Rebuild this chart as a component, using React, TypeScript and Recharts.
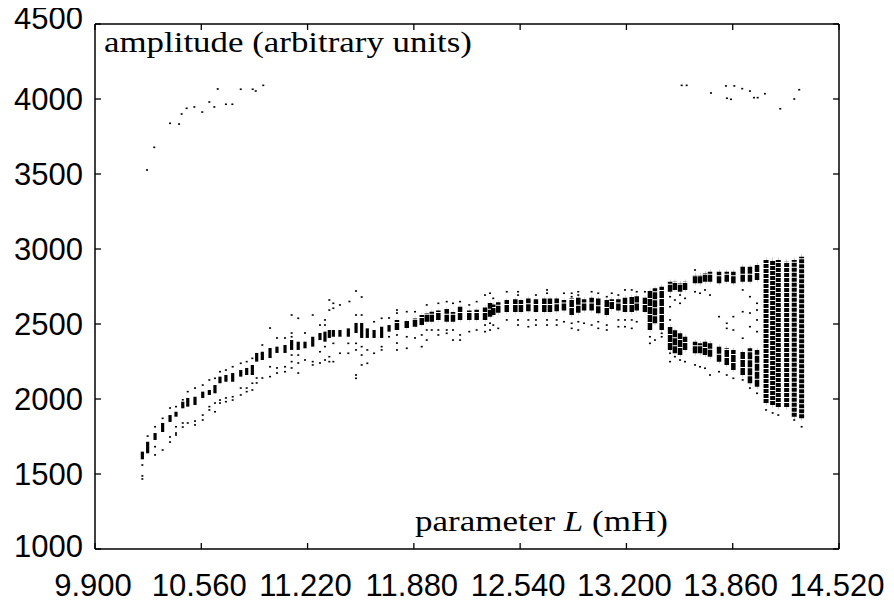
import React from "react";
import { ScatterChart, Scatter, XAxis, YAxis, ErrorBar } from "recharts";

const xTicks = [9.9, 10.56, 11.22, 11.88, 12.54, 13.2, 13.86, 14.52];
const xTickLabels = ["9.900", "10.560", "11.220", "11.880", "12.540", "13.200", "13.860", "14.520"];
const yTicks = [1000, 1500, 2000, 2500, 3000, 3500, 4000, 4500];

// dense bands: [L, low amplitude, high amplitude]
const leftBands: [number, number, number][] = [
  [10.194, 1598, 1649], [10.227, 1638, 1715], [10.273, 1727, 1773], [10.32, 1780, 1840],
  [10.366, 1847, 1893], [10.403, 1882, 1915], [10.445, 1938, 1982], [10.476, 1949, 2007],
  [10.521, 1960, 2015], [10.569, 2007, 2049], [10.61, 2027, 2060], [10.645, 2038, 2093],
  [10.676, 2105, 2149], [10.713, 2115, 2160], [10.755, 2115, 2173], [10.805, 2149, 2193],
  [10.842, 2160, 2207], [10.877, 2160, 2227], [10.904, 2249, 2307], [10.939, 2260, 2315],
  [10.987, 2273, 2340], [11.03, 2307, 2349], [11.08, 2307, 2360], [11.121, 2327, 2393],
  [11.162, 2327, 2382], [11.204, 2338, 2382], [11.252, 2349, 2415], [11.297, 2393, 2440],
  [11.328, 2382, 2449], [11.355, 2407, 2460], [11.38, 2415, 2460], [11.421, 2415, 2460],
  [11.473, 2415, 2471], [11.521, 2440, 2507], [11.556, 2407, 2507], [11.591, 2407, 2471],
  [11.633, 2407, 2460], [11.68, 2407, 2482], [11.726, 2449, 2493],
];

const midBands: [number, number, number][] = [
  [11.775, 2460, 2527], [11.836, 2473, 2527], [11.887, 2482, 2538], [11.929, 2493, 2560],
  [11.96, 2515, 2571], [11.991, 2515, 2582], [12.032, 2527, 2590], [12.084, 2515, 2600],
  [12.123, 2515, 2580], [12.167, 2527, 2615], [12.224, 2527, 2590], [12.27, 2527, 2595],
  [12.322, 2527, 2610], [12.353, 2549, 2640], [12.373, 2560, 2630], [12.404, 2575, 2645],
  [12.457, 2580, 2660], [12.51, 2580, 2665], [12.545, 2580, 2660], [12.591, 2585, 2670],
  [12.638, 2580, 2665], [12.69, 2580, 2670], [12.725, 2580, 2670], [12.767, 2585, 2670],
  [12.812, 2590, 2660], [12.86, 2560, 2670], [12.901, 2575, 2675], [12.937, 2590, 2665],
  [12.984, 2590, 2675], [13.025, 2571, 2670], [13.078, 2560, 2660], [13.109, 2600, 2665],
  [13.15, 2590, 2665], [13.191, 2580, 2675], [13.233, 2580, 2680], [13.264, 2590, 2685],
  [13.315, 2580, 2675], [13.346, 2460, 2727], [13.377, 2505, 2738], [13.419, 2460, 2749],
];

const upperBands: [number, number, number][] = [
  [13.471, 2715, 2782], [13.501, 2727, 2782], [13.533, 2715, 2771], [13.564, 2727, 2782],
  [13.626, 2771, 2827], [13.657, 2771, 2827], [13.688, 2782, 2838], [13.719, 2782, 2849],
  [13.775, 2771, 2849], [13.823, 2782, 2849], [13.864, 2771, 2849],
  [13.922, 2782, 2882], [13.967, 2782, 2882], [14.011, 2793, 2893],
];

const lowerBands: [number, number, number][] = [
  [13.471, 2327, 2482], [13.501, 2305, 2460], [13.533, 2293, 2438], [13.564, 2327, 2415],
  [13.626, 2305, 2382], [13.657, 2305, 2371], [13.688, 2293, 2382], [13.719, 2282, 2371],
  [13.775, 2249, 2349], [13.823, 2227, 2338], [13.864, 2193, 2327],
  [13.922, 2160, 2315], [13.967, 2105, 2338], [14.011, 2082, 2327],
];

const chaosBands: [number, number, number][] = [
  [14.067, 1973, 2927], [14.108, 1960, 2927], [14.143, 1947, 2927],
  [14.195, 1947, 2915], [14.242, 1882, 2927], [14.288, 1871, 2949],
];

// scattered dots: [L, amplitude]
const lowDots: [number, number][] = [
  [10.194, 1560], [10.194, 1487], [10.194, 1467], [10.227, 1753],
  [10.273, 1815], [10.273, 1682], [10.273, 1627], [10.32, 1871], [10.32, 1660],
  [10.366, 1940], [10.366, 1747], [10.366, 1713], [10.403, 1949], [10.403, 1815], [10.403, 1773], [10.403, 1760],
  [10.445, 1995], [10.445, 1840], [10.445, 1813], [10.476, 2049], [10.476, 1840],
  [10.521, 2073], [10.521, 1853], [10.521, 1827], [10.569, 2093], [10.569, 1893], [10.569, 1860],
  [10.61, 2127], [10.61, 1949], [10.61, 1927], [10.645, 2138], [10.645, 1973], [10.645, 1915],
  [10.676, 2182], [10.676, 1993], [10.676, 1973], [10.713, 2193], [10.713, 2007], [10.713, 1982],
  [10.755, 2215], [10.755, 2015], [10.755, 1993], [10.805, 2238], [10.805, 2073], [10.805, 2027],
  [10.842, 2249], [10.842, 2073], [10.842, 2049], [10.877, 2271], [10.877, 2105], [10.877, 2060],
  [10.904, 2140], [10.904, 2107], [10.939, 2360], [10.939, 2140],
  [10.987, 2473], [10.987, 2215], [10.987, 2149], [11.03, 2407], [11.03, 2207], [11.03, 2173],
  [11.08, 2407], [11.08, 2215], [11.08, 2182],
  [11.121, 2560], [11.121, 2440], [11.121, 2415], [11.121, 2293], [11.121, 2249], [11.121, 2207],
  [11.162, 2538], [11.162, 2293], [11.162, 2240], [11.162, 2173], [11.204, 2440], [11.204, 2260],
  [11.252, 2560], [11.252, 2249], [11.252, 2227], [11.297, 2493], [11.297, 2315], [11.297, 2240],
  [11.328, 2527], [11.328, 2493], [11.328, 2349], [11.328, 2260],
  [11.355, 2660], [11.355, 2593], [11.355, 2282], [11.355, 2249],
  [11.38, 2638], [11.38, 2605], [11.38, 2371], [11.38, 2249], [11.421, 2627], [11.421, 2305],
  [11.473, 2371], [11.473, 2305], [11.48, 2650],
  [11.521, 2720], [11.521, 2560], [11.521, 2371], [11.521, 2327], [11.521, 2160], [11.521, 2138],
  [11.556, 2680], [11.556, 2560], [11.556, 2349], [11.556, 2293], [11.556, 2227],
  [11.591, 2327], [11.591, 2238], [11.633, 2515], [11.633, 2305],
  [11.68, 2538], [11.68, 2349], [11.68, 2327], [11.726, 2540], [11.726, 2415],
  [11.775, 2593], [11.775, 2573], [11.775, 2427], [11.775, 2373], [11.775, 2327],
  [11.836, 2582], [11.836, 2415], [11.836, 2338], [11.887, 2582], [11.887, 2407],
  [11.929, 2427], [11.929, 2349], [11.96, 2627], [11.96, 2460], [11.96, 2393], [11.991, 2460],
  [12.032, 2638], [12.032, 2460], [12.032, 2427], [12.084, 2649], [12.084, 2460], [12.084, 2438],
  [12.123, 2638], [12.123, 2460], [12.123, 2393], [12.167, 2649], [12.167, 2427], [12.167, 2393],
  [12.224, 2627], [12.224, 2449], [12.27, 2649], [12.27, 2460],
  [12.322, 2693], [12.322, 2493], [12.322, 2449], [12.353, 2705], [12.353, 2505], [12.353, 2460],
  [12.373, 2671], [12.373, 2493], [12.404, 2471], [12.457, 2715], [12.457, 2527],
  [12.527, 2715], [12.527, 2693], [12.527, 2527], [12.527, 2493], [12.591, 2527], [12.591, 2482],
  [12.638, 2693], [12.638, 2527], [12.638, 2493],
  [12.707, 2727], [12.707, 2705], [12.707, 2527], [12.707, 2493], [12.767, 2527], [12.767, 2493],
  [12.812, 2705], [12.812, 2515], [12.86, 2705], [12.86, 2682], [12.86, 2505], [12.86, 2471],
  [12.901, 2715], [12.901, 2693], [12.901, 2515], [12.901, 2460], [12.937, 2505],
  [12.984, 2715], [12.984, 2493], [13.025, 2705], [13.025, 2515], [13.025, 2471],
  [13.078, 2682], [13.078, 2493], [13.078, 2460], [13.109, 2705],
  [13.15, 2693], [13.15, 2527], [13.15, 2482], [13.191, 2727], [13.191, 2527], [13.191, 2482],
  [13.233, 2727], [13.233, 2527], [13.233, 2471], [13.264, 2715], [13.264, 2515], [13.315, 2715],
  [13.346, 2415], [13.346, 2371], [13.377, 2393], [13.419, 2605], [13.419, 2438], [13.419, 2415],
  [13.471, 2682], [13.471, 2615], [13.471, 2527], [13.471, 2305], [13.471, 2249],
  [13.501, 2660], [13.501, 2282], [13.533, 2693], [13.533, 2638], [13.533, 2260],
  [13.564, 2671], [13.564, 2249], [13.626, 2860], [13.626, 2715], [13.626, 2227],
  [13.657, 2705], [13.657, 2215], [13.688, 2727], [13.688, 2205], [13.719, 2693], [13.719, 2160],
  [13.775, 2549], [13.775, 2182], [13.823, 2505], [13.823, 2471], [13.823, 2160],
  [13.864, 2549], [13.864, 2460], [13.864, 2138],
  [13.922, 2727], [13.922, 2582], [13.922, 2405], [13.922, 2127],
  [13.967, 2682], [13.967, 2573], [13.967, 2482], [13.967, 2073],
  [14.011, 2638], [14.011, 2593], [14.011, 2527], [14.011, 2449], [14.011, 2038],
  [14.067, 1927], [14.108, 1907], [14.143, 1893], [14.242, 1860], [14.288, 1815],
];

const highDots: [number, number][] = [
  [10.223, 3527], [10.268, 3678], [10.366, 3838], [10.422, 3833], [10.438, 3900],
  [10.469, 3938], [10.517, 3947], [10.566, 3913], [10.61, 3980], [10.641, 3947],
  [10.662, 4067], [10.713, 3965], [10.753, 3965], [10.805, 4065], [10.879, 4065],
  [10.898, 4053], [10.945, 4091],
  [13.543, 4091], [13.574, 4091], [13.725, 4040], [13.818, 4087], [13.87, 4087],
  [13.919, 4069], [13.967, 4053], [13.824, 4005], [13.849, 3998], [13.992, 4009],
  [14.015, 4009], [14.06, 4035], [14.155, 3935], [14.242, 4000], [14.273, 4062],
];

const toBand = (b: [number, number, number][]) =>
  b.map(([L, lo, hi]) => {
    const mid = (lo + hi) / 2;
    return { L, amp: mid, err: [mid - lo, hi - mid] };
  });
const toDots = (d: [number, number][]) => d.map(([L, amp]) => ({ L, amp }));

const tickFont = "'Liberation Sans', Arial, Helvetica, sans-serif";
const serifFont = "'Liberation Serif', 'Times New Roman', serif";
const TL = 6;

const BottomTick = (p: any) => {
  const i = xTicks.findIndex((t) => Math.abs(t - p.payload.value) < 1e-6);
  return (
    <g>
      <line x1={p.x} x2={p.x} y1={p.y} y2={p.y - TL} stroke="#000" strokeWidth={1.3} />
      <text x={p.x - 2} y={p.y + 47} textAnchor="middle" fontFamily={tickFont} fontSize={31} fill="#000">
        {i >= 0 ? xTickLabels[i] : ""}
      </text>
    </g>
  );
};
const TopTick = (p: any) => (
  <line x1={p.x} x2={p.x} y1={p.y} y2={p.y + TL} stroke="#000" strokeWidth={1.3} />
);
const LeftTick = (p: any) => {
  const v = p.payload.value;
  const shift = v === 4500 ? -6 : v === 1000 ? -3 : 0;
  return (
    <g>
      <line x1={p.x} x2={p.x + TL} y1={p.y} y2={p.y} stroke="#000" strokeWidth={1.3} />
      <text x={p.x - 12} y={p.y + shift} dy="0.36em" textAnchor="end" fontFamily={tickFont} fontSize={31} fill="#000">
        {String(v)}
      </text>
    </g>
  );
};
const RightTick = (p: any) => (
  <line x1={p.x} x2={p.x - TL} y1={p.y} y2={p.y} stroke="#000" strokeWidth={1.3} />
);

const Empty = () => <g />;
const Dot = (p: any) => <rect x={p.cx - 1} y={p.cy - 0.8} width={2} height={1.6} fill="#000" />;

const axisLine = { stroke: "#000", strokeWidth: 1.5 };

export default function App() {
  return (
    <div style={{ marginTop: -8, marginLeft: -8, width: 894, height: 606 }}>
      <ScatterChart width={894} height={606} margin={{ top: 23, right: 54, bottom: 0, left: 0 }}>
        <XAxis xAxisId="b" type="number" dataKey="L" domain={[9.9, 14.52]} ticks={xTicks} interval={0}
          allowDataOverflow height={57} tickSize={0} tickMargin={0} axisLine={axisLine} tickLine={false} tick={<BottomTick />} />
        <XAxis xAxisId="t" orientation="top" type="number" dataKey="L" domain={[9.9, 14.52]} ticks={xTicks} interval={0}
          allowDataOverflow height={1} tickSize={0} tickMargin={0} axisLine={axisLine} tickLine={false} tick={<TopTick />} />
        <YAxis yAxisId="l" type="number" dataKey="amp" domain={[1000, 4500]} ticks={yTicks} interval={0}
          allowDataOverflow width={95} tickSize={0} tickMargin={0} axisLine={axisLine} tickLine={false} tick={<LeftTick />} />
        <YAxis yAxisId="r" orientation="right" type="number" dataKey="amp" domain={[1000, 4500]} ticks={yTicks} interval={0}
          allowDataOverflow width={1} tickSize={0} tickMargin={0} axisLine={axisLine} tickLine={false} tick={<RightTick />} />

        <Scatter xAxisId="b" yAxisId="l" data={toBand(leftBands)} shape={<Empty />} isAnimationActive={false}>
          <ErrorBar dataKey="err" direction="y" width={0} stroke="#000" strokeWidth={3.2} isAnimationActive={false} />
        </Scatter>
        <Scatter xAxisId="b" yAxisId="l" data={toBand(midBands)} shape={<Empty />} isAnimationActive={false}>
          <ErrorBar dataKey="err" direction="y" width={0} stroke="#000" strokeWidth={4.5} strokeDasharray="7 1" isAnimationActive={false} />
        </Scatter>
        <Scatter xAxisId="b" yAxisId="l" data={toBand(upperBands)} shape={<Empty />} isAnimationActive={false}>
          <ErrorBar dataKey="err" direction="y" width={0} stroke="#000" strokeWidth={4.5} strokeDasharray="7 1" isAnimationActive={false} />
        </Scatter>
        <Scatter xAxisId="b" yAxisId="l" data={toBand(lowerBands)} shape={<Empty />} isAnimationActive={false}>
          <ErrorBar dataKey="err" direction="y" width={0} stroke="#000" strokeWidth={4.5} strokeDasharray="7 1" isAnimationActive={false} />
        </Scatter>
        <Scatter xAxisId="b" yAxisId="l" data={toBand(chaosBands)} shape={<Empty />} isAnimationActive={false}>
          <ErrorBar dataKey="err" direction="y" width={0} stroke="#000" strokeWidth={5} strokeDasharray="4 1" isAnimationActive={false} />
        </Scatter>
        <Scatter xAxisId="b" yAxisId="l" data={toDots(lowDots)} shape={<Dot />} isAnimationActive={false} />
        <Scatter xAxisId="b" yAxisId="l" data={toDots(highDots)} shape={<Dot />} isAnimationActive={false} />

        <text x={104} y={52} fontFamily={serifFont} fontSize={30} fill="#000" textLength={368} lengthAdjust="spacingAndGlyphs">
          amplitude (arbitrary units)
        </text>
        <text x={415} y={531} fontFamily={serifFont} fontSize={30} fill="#000" textLength={253} lengthAdjust="spacingAndGlyphs">
          parameter <tspan fontStyle="italic">L</tspan> (mH)
        </text>
      </ScatterChart>
    </div>
  );
}
